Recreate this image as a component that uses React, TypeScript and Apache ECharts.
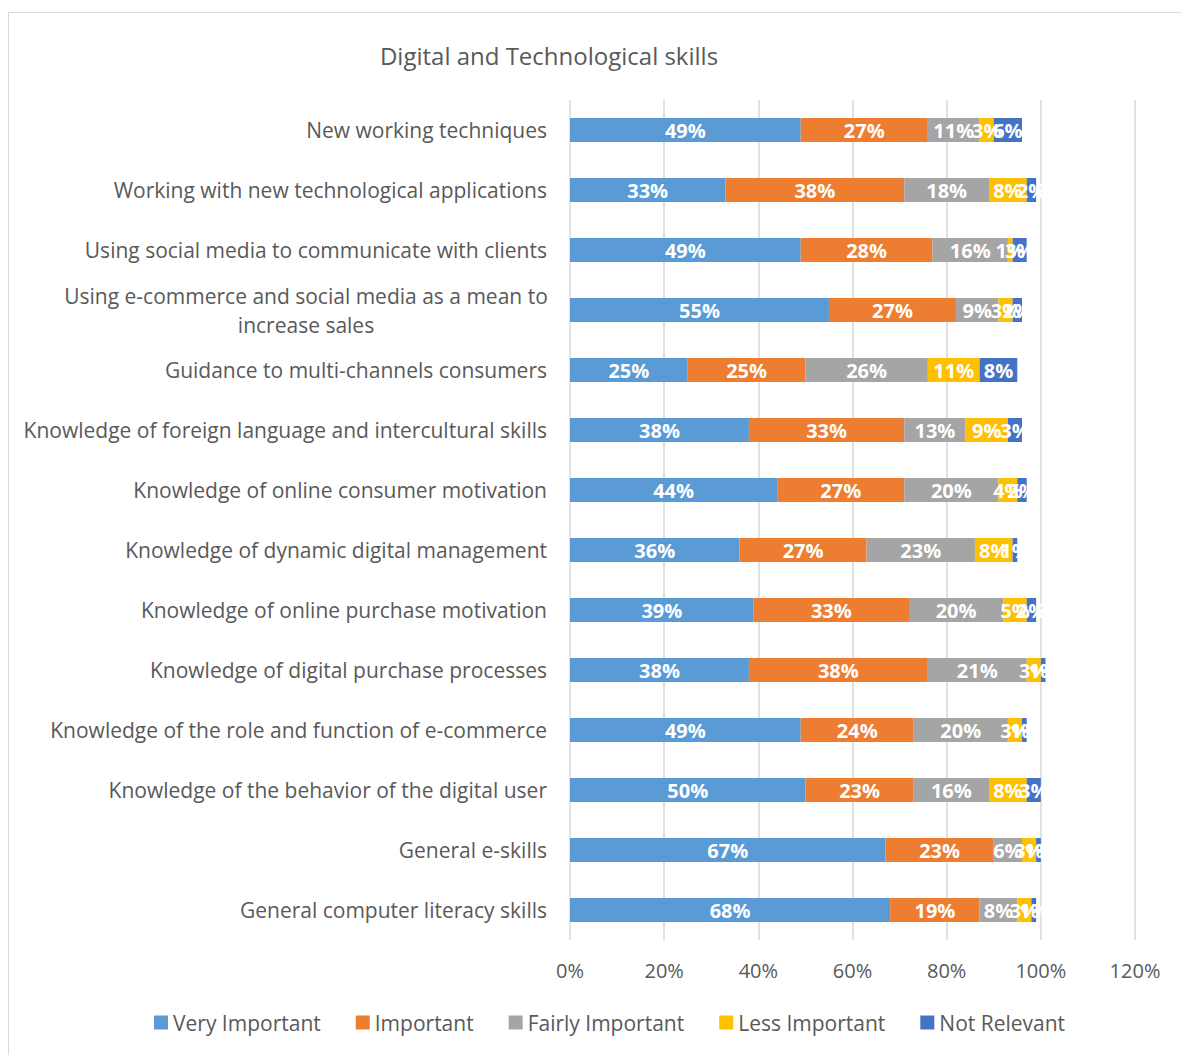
import React, { useEffect, useRef } from "react";
import * as echarts from "echarts";

const categories = [
  "New working techniques",
  "Working with new technological applications",
  "Using social media to communicate with clients",
  "Using e-commerce and social media as a mean to increase sales",
  "Guidance to multi-channels consumers",
  "Knowledge of foreign language and intercultural skills",
  "Knowledge of online consumer motivation",
  "Knowledge of dynamic digital management",
  "Knowledge of online purchase motivation",
  "Knowledge of digital purchase processes",
  "Knowledge of the role and function of e-commerce",
  "Knowledge of the behavior of the digital user",
  "General e-skills",
  "General computer literacy skills",
];

const seriesNames = ["Very Important", "Important", "Fairly Important", "Less Important", "Not Relevant"];
const veryImportant = [49, 33, 49, 55, 25, 38, 44, 36, 39, 38, 49, 50, 67, 68];
const important = [27, 38, 28, 27, 25, 33, 27, 27, 33, 38, 24, 23, 23, 19];
const fairlyImportant = [11, 18, 16, 9, 26, 13, 20, 23, 20, 21, 20, 16, 6, 8];
const lessImportant = [3, 8, 1, 3, 11, 9, 4, 8, 5, 3, 3, 8, 3, 3];
const notRelevant = [6, 2, 3, 2, 8, 3, 2, 1, 2, 1, 1, 3, 1, 1];
const xTicks = [0, 20, 40, 60, 80, 100, 120];

const colors = ["#5B9BD5", "#ED7D31", "#A5A5A5", "#FFC000", "#4472C4"];
const FONT = "'Open Sans', sans-serif";

export default function App() {
  const ref = useRef<HTMLDivElement>(null);
  useEffect(() => {
    if (!ref.current) return;
    const chart = echarts.init(ref.current, undefined, { renderer: "svg" });
    const values = [veryImportant, important, fairlyImportant, lessImportant, notRelevant];
    chart.setOption({
      animation: false,
      textStyle: { fontFamily: FONT },
      title: {
        text: "Digital and Technological skills",
        left: 544,
        top: 38,
        textAlign: "center",
        textStyle: { fontFamily: FONT, fontSize: 24, fontWeight: "normal", color: "#595959" },
      },
      graphic: [
        {
          type: "rect",
          shape: { x: 8.5, y: 12.5, width: 1180, height: 1060 },
          style: { fill: "none", stroke: "#D9D9D9", lineWidth: 1 },
          silent: true,
        },
      ],
      legend: {
        data: seriesNames,
        bottom: 17,
        left: 149,
        icon: "rect",
        itemWidth: 14,
        itemHeight: 14,
        itemGap: 35,
        textStyle: { fontFamily: FONT, fontSize: 21, color: "#595959" },
      },
      grid: { left: 570, right: 46, top: 100, bottom: 115, containLabel: false },
      xAxis: {
        type: "value",
        min: xTicks[0],
        max: xTicks[xTicks.length - 1],
        interval: 20,
        axisLabel: {
          formatter: (v: number) => v + "%",
          fontFamily: FONT,
          fontSize: 20,
          color: "#595959",
          margin: 20,
        },
        axisLine: { show: false },
        axisTick: { show: false },
        splitLine: { lineStyle: { color: "#D9D9D9", width: 1.5 } },
      },
      yAxis: {
        type: "category",
        inverse: true,
        data: categories,
        axisLine: { show: false },
        axisTick: { show: false },
        axisLabel: {
          fontFamily: FONT,
          fontSize: 21,
          color: "#595959",
          margin: 23,
          formatter: (v: string) => {
            if (v.startsWith("Using e-commerce")) {
              return "{w|Using e-commerce and social media as a mean to}\n{w|increase sales}";
            }
            return v;
          },
          rich: {
            w: { width: 482, align: "center", fontFamily: FONT, fontSize: 21, color: "#595959", lineHeight: 29 },
          },
        },
      },
      series: seriesNames.map((name, i) => ({
        name,
        type: "bar",
        stack: "total",
        barWidth: 24,
        data: values[i],
        itemStyle: { color: colors[i] },
        label: {
          show: true,
          position: "inside",
          formatter: (p: any) => p.value + "%",
          color: "#FFFFFF",
          fontFamily: FONT,
          fontSize: 20,
          fontWeight: "bold",
          overflow: "none",
        },
        labelLayout: { hideOverlap: false },
      })),
    });
    return () => chart.dispose();
  }, []);
  return (
    <div
      ref={ref}
      style={{ position: "fixed", left: 0, top: 0, width: 1181, height: 1055, background: "#fff" }}
    />
  );
}
